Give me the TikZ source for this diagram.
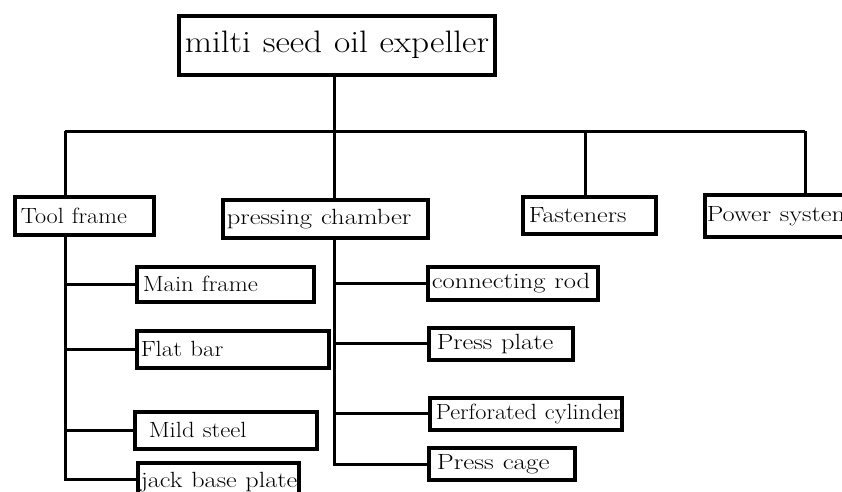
\documentclass[tikz,border=0pt]{standalone}
\usepackage{fontspec}
\usepackage{graphicx}
\newcommand{\stretchtxt}[2]{\scalebox{#1}[1]{#2}}
\begin{document}
\begin{tikzpicture}[x=1pt,y=-1pt,
  box/.style={draw=black,line width=3.5pt,anchor=north west,inner xsep=4pt,inner ysep=0pt,align=left,font=\fontsize{22}{24}\selectfont},
  conn/.style={draw=black,line width=3pt}]
\useasboundingbox (0,0) rectangle (842,491);
\clip (0,0) rectangle (842,491);
% title
\node[box,text width=304pt,minimum height=59pt,inner xsep=6pt,font=\fontsize{31}{33}\selectfont] (title) at (177,14) {\stretchtxt{1.14}{milti seed oil expeller}};
% level 1
\node[box,text width=127pt,minimum height=38pt,inner xsep=6pt] (tf) at (13,195) {\stretchtxt{1.1}{Tool frame}};
\node[box,text width=197pt,minimum height=38pt] (pc) at (221,198) {\stretchtxt{1.21}{pressing chamber}};
\node[box,text width=121pt,minimum height=37pt,inner xsep=6pt] (fa) at (521,195) {\stretchtxt{1.19}{Fasteners}};
\node[box,text width=160pt,minimum height=42pt,inner xsep=2pt] (ps) at (703,193) {\stretchtxt{1.2}{Power system}};
% tool frame children
\node[box,text width=165pt,minimum height=35pt,inner xsep=6pt] (mf) at (135,265) {\stretchtxt{1.12}{Main frame}};
\node[box,text width=184pt,minimum height=37pt,inner xsep=4pt] (fb) at (135,329) {\stretchtxt{1.13}{Flat bar}};
\node[box,text width=154pt,minimum height=37pt,inner xsep=14pt] (ms) at (133,410) {\stretchtxt{1.12}{Mild steel}};
\node[box,text width=155pt,minimum height=38pt,inner xsep=3pt] (jb) at (136,461) {\stretchtxt{1.19}{jack base plate}};
% pressing chamber children
\node[box,text width=162pt,minimum height=33pt,inner xsep=4pt] (cr) at (426,265) {\stretchtxt{1.21}{connecting rod}};
\node[box,text width=128pt,minimum height=32pt,inner xsep=8pt] (pp) at (427,326) {\stretchtxt{1.2}{Press plate}};
\node[box,text width=180pt,minimum height=32pt,inner xsep=6pt] (pcy) at (428,396) {\stretchtxt{1.1}{Perforated cylinder}};
\node[box,text width=130pt,minimum height=32pt,inner xsep=8pt] (pcg) at (427,446) {\stretchtxt{1.23}{Press cage}};
% bus coordinates
\coordinate (b1) at (65,131);
\coordinate (b2) at (334,131);
\coordinate (b3) at (585,131);
\coordinate (b4) at (805,131);
\coordinate (s1) at (65,479);
\coordinate (s2) at (334,464);
\draw[conn] (b1) -- (b4);
\draw[conn] (title.south -| b2) -- (b2);
\draw[conn] (b1) -- (b1 |- tf.north);
\draw[conn] (b2) -- (b2 |- pc.north);
\draw[conn] (b3) -- (b3 |- fa.north);
\draw[conn] (b4) -- (b4 |- ps.north);
% tool frame branch
\draw[conn] (b1 |- tf.south) -- (s1) -- (s1 -| jb.west);
\draw[conn] (b1 |- mf.west) -- (mf.west);
\draw[conn] (b1 |- fb.west) -- (fb.west);
\draw[conn] (b1 |- ms.west) -- (ms.west);
% pressing chamber branch
\draw[conn] (b2 |- pc.south) -- (s2) -- (s2 -| pcg.west);
\draw[conn] (b2 |- cr.west) -- (cr.west);
\draw[conn] (b2 |- pp.west) -- (pp.west);
\draw[conn] (b2 |- pcy.west) -- (pcy.west);
\end{tikzpicture}
\end{document}
